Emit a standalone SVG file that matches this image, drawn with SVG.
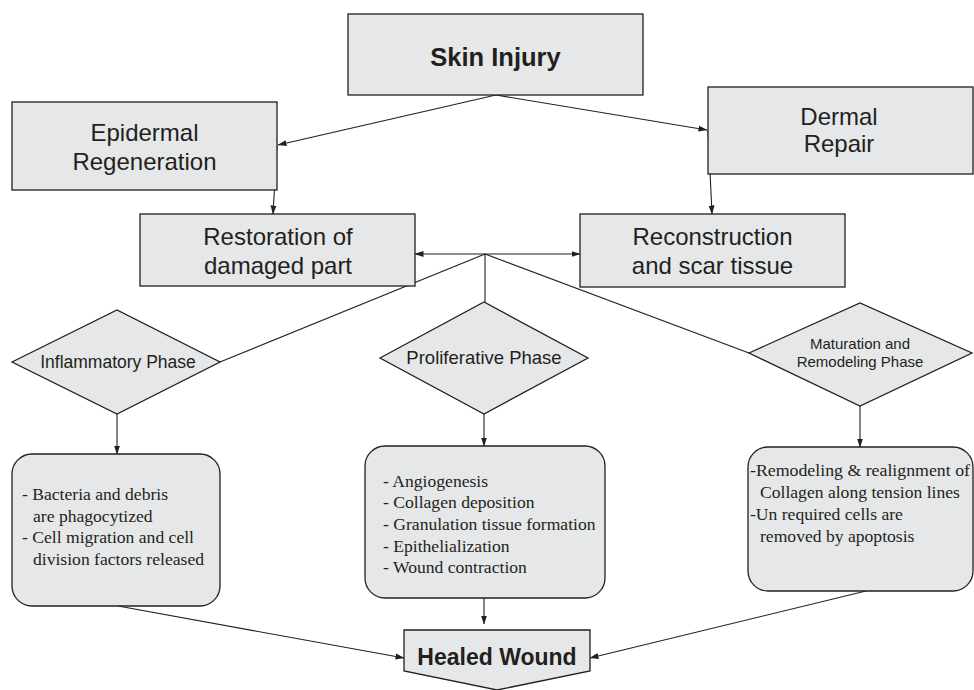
<svg xmlns="http://www.w3.org/2000/svg" width="974" height="690" viewBox="0 0 974 690">
<defs>
<marker id="ah" markerWidth="9" markerHeight="7" refX="8.5" refY="3.5" orient="auto-start-reverse" markerUnits="userSpaceOnUse">
<path d="M0,0.5 L9,3.5 L0,6.5 z" fill="#231f20"/>
</marker>
<style>
.box{fill:#e6e7e8;stroke:#231f20;stroke-width:1.3}
.con{fill:none;stroke:#231f20;stroke-width:1.1}
.sans{font-family:"Liberation Sans",Arial,sans-serif;fill:#231f20}
.serif{font-family:"Liberation Serif","Times New Roman",serif;fill:#231f20;font-size:17.6px}
.big{font-size:24px;text-anchor:middle}
.bold{font-weight:bold;text-anchor:middle}
</style>
</defs>
<rect width="974" height="690" fill="#ffffff"/>
<g id="connectors">
<path class="con" d="M496,95 L278,145" marker-end="url(#ah)"/>
<path class="con" d="M496,95 L707,130" marker-end="url(#ah)"/>
<path class="con" d="M277,146 L273,214" marker-end="url(#ah)"/>
<path class="con" d="M708,130 L712,214" marker-end="url(#ah)"/>
<path class="con" d="M415,254 L580,254" marker-start="url(#ah)" marker-end="url(#ah)"/>
<path class="con" d="M485,254 L485,302"/>
<path class="con" d="M485,254 L220,362"/>
<path class="con" d="M485,254 L749,353"/>
<path class="con" d="M117,414 L117,454" marker-end="url(#ah)"/>
<path class="con" d="M484,414 L484,446" marker-end="url(#ah)"/>
<path class="con" d="M860,406 L860,447" marker-end="url(#ah)"/>
<path class="con" d="M118,606 L404,658" marker-end="url(#ah)"/>
<path class="con" d="M484,598 L484,624" marker-end="url(#ah)"/>
<path class="con" d="M866,591 L590,658" marker-end="url(#ah)"/>
</g>
<g id="skin-injury">
<rect class="box" x="348" y="14" width="295" height="81"/>
<text class="sans bold" x="495.5" y="66" font-size="25.5">Skin Injury</text>
</g>
<g id="epidermal-regeneration">
<rect class="box" x="12" y="102" width="265" height="88"/>
<text class="sans big" x="144.5" y="141">Epidermal</text>
<text class="sans big" x="144.5" y="170">Regeneration</text>
</g>
<g id="dermal-repair">
<rect class="box" x="708" y="87" width="265" height="87"/>
<text class="sans big" x="839" y="125">Dermal</text>
<text class="sans big" x="839" y="152">Repair</text>
</g>
<g id="restoration">
<rect class="box" x="140" y="214" width="275" height="72"/>
<text class="sans big" x="278" y="245">Restoration of</text>
<text class="sans big" x="278" y="274">damaged part</text>
</g>
<g id="reconstruction">
<rect class="box" x="580" y="214" width="265" height="73"/>
<text class="sans big" x="712.5" y="245">Reconstruction</text>
<text class="sans big" x="712.5" y="274">and scar tissue</text>
</g>
<g id="inflammatory-phase">
<polygon class="box" points="12,362 117,310 220,362 117,414"/>
<text class="sans" x="118" y="368" font-size="17.5" text-anchor="middle">Inflammatory Phase</text>
</g>
<g id="proliferative-phase">
<polygon class="box" points="380,358 484,302 588,358 484,414"/>
<text class="sans" x="484" y="364" font-size="18.5" text-anchor="middle">Proliferative Phase</text>
</g>
<g id="maturation-phase">
<polygon class="box" points="749,353 860,303 972,353 860,406"/>
<text class="sans" x="860" y="349" font-size="15" text-anchor="middle">Maturation and</text>
<text class="sans" x="860" y="367" font-size="15" text-anchor="middle">Remodeling Phase</text>
</g>
<g id="inflammatory-details">
<rect class="box" x="12" y="454" width="208" height="152" rx="20" ry="20"/>
<text class="serif" x="22" y="500">- Bacteria and debris</text>
<text class="serif" x="33" y="522">are phagocytized</text>
<text class="serif" x="22" y="543">- Cell migration and cell</text>
<text class="serif" x="33" y="565">division factors released</text>
</g>
<g id="proliferative-details">
<rect class="box" x="365" y="446" width="240" height="152" rx="20" ry="20"/>
<text class="serif" x="383" y="487">- Angiogenesis</text>
<text class="serif" x="383" y="508">- Collagen deposition</text>
<text class="serif" x="383" y="530">- Granulation tissue formation</text>
<text class="serif" x="383" y="552">- Epithelialization</text>
<text class="serif" x="383" y="573">- Wound contraction</text>
</g>
<g id="maturation-details">
<rect class="box" x="748" y="447" width="225" height="144" rx="20" ry="20"/>
<text class="serif" x="750" y="476" textLength="220" lengthAdjust="spacingAndGlyphs">-Remodeling &amp; realignment of</text>
<text class="serif" x="760" y="498">Collagen along tension lines</text>
<text class="serif" x="750" y="520">-Un required cells are</text>
<text class="serif" x="760" y="542">removed by apoptosis</text>
</g>
<g id="healed-wound">
<polygon class="box" points="404,630 590,630 590,671 497,690 404,671"/>
<text class="sans bold" x="497" y="665" font-size="23">Healed Wound</text>
</g>
</svg>
